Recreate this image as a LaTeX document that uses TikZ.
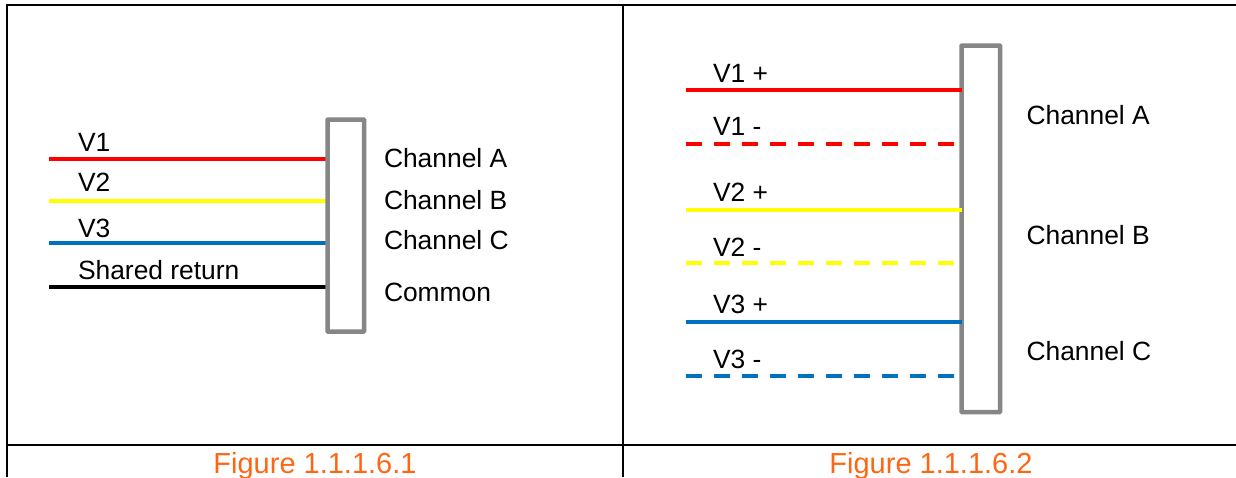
\documentclass[tikz,border=0pt]{standalone}
\usepackage{fontspec}
\setmainfont{Liberation Sans}
\definecolor{wblue}{HTML}{0070C0}
\definecolor{wyellow}{HTML}{FFFF00}
\definecolor{wred}{HTML}{FF0000}
\definecolor{wgray}{HTML}{868686}
\definecolor{worange}{HTML}{FF6614}
\tikzset{
  grid line/.style={line width=2pt,black},
  conn box/.style={draw=wgray,line width=4.5pt,rounded corners=0.6pt,inner sep=0pt,outer sep=0pt,anchor=north west},
  wire/.style={line width=3.7pt},
  dash wire/.style={line width=3.7pt,dash pattern=on 16pt off 12pt},
  lbl/.style={anchor=base west,inner sep=0pt,outer sep=0pt,font=\fontsize{26.4}{30}\selectfont,text=black},
  figcap/.style={anchor=base,inner sep=0pt,outer sep=0pt,font=\fontsize{29}{33}\selectfont,text=worange}
}
\begin{document}
\begin{tikzpicture}[x=1pt,y=-1pt]
\useasboundingbox (0,0) rectangle (1236,477);
% table rules
\coordinate (tl) at (7,5);
\coordinate (tr) at (1236,5);
\coordinate (ml) at (7,445);
\coordinate (mr) at (1236,445);
\coordinate (bl) at (7,477);
\coordinate (tm) at (623,5);
\coordinate (bm) at (623,477);
\draw[grid line] (6,5) -- (tr);
\draw[grid line] (ml) -- (mr);
\draw[grid line] (tl) -- (bl);
\draw[grid line] (tm) -- (bm);
% left connector
\path node[conn box,draw=none,minimum width=36.5pt,minimum height=212pt] (boxL) at (327.5,119.5) {};
\coordinate (a1) at (49,159);
\coordinate (a2) at (49,201);
\coordinate (a3) at (49,243);
\coordinate (a4) at (49,287);
\draw[wire,wred] (a1) -- (a1 -| boxL.west);
\draw[wire,wyellow] (a2) -- (a2 -| boxL.west);
\draw[wire,wblue] (a3) -- (a3 -| boxL.west);
\draw[wire,black] (a4) -- (a4 -| boxL.west);
\node[conn box,minimum width=36.5pt,minimum height=212pt] (boxLf) at (327.5,119.5) {};
\node[lbl] (lv1) at (78,151) {V1};
\node[lbl] (lv2) at (78,191) {V2};
\node[lbl] (lv3) at (78,237) {V3};
\node[lbl] (lsr) at (78,279) {Shared return};
\node[lbl] (lca) at (384,167) {Channel A};
\node[lbl] (lcb) at (384,209) {Channel B};
\node[lbl] (lcc) at (384,249) {Channel C};
\node[lbl] (lcm) at (384,301) {Common};
% right connector
\node[conn box,minimum width=38.5pt,minimum height=366.5pt] (boxR) at (961.5,45.5) {};
\coordinate (b1) at (685.5,90);
\coordinate (b2) at (685.5,144);
\coordinate (b3) at (685.5,210);
\coordinate (b4) at (685.5,263);
\coordinate (b5) at (685.5,322);
\coordinate (b6) at (685.5,376);
\coordinate (e2) at (953.5,144);
\coordinate (e4) at (953.5,263);
\coordinate (e6) at (953.5,376);
\draw[wire,wred] (b1) -- (b1 -| boxR.west);
\draw[dash wire,wred] (b2) -- (e2);
\draw[wire,wyellow] (b3) -- (b3 -| boxR.west);
\draw[dash wire,wyellow] (b4) -- (e4);
\draw[wire,wblue] (b5) -- (b5 -| boxR.west);
\draw[dash wire,wblue] (b6) -- (e6);
\node[lbl] (rv1p) at (713,82) {V1 +};
\node[lbl] (rv1m) at (713,135) {V1 -};
\node[lbl] (rv2p) at (713,201) {V2 +};
\node[lbl] (rv2m) at (713,256) {V2 -};
\node[lbl] (rv3p) at (713,313) {V3 +};
\node[lbl] (rv3m) at (713,368) {V3 -};
\node[lbl] (rca) at (1026.5,124) {Channel A};
\node[lbl] (rcb) at (1026.5,244) {Channel B};
\node[lbl] (rcc) at (1026.5,360) {Channel C};
% captions
\node[figcap] (c1) at (315,473) {Figure 1.1.1.6.1};
\node[figcap] (c2) at (931,473) {Figure 1.1.1.6.2};
\end{tikzpicture}
\end{document}
